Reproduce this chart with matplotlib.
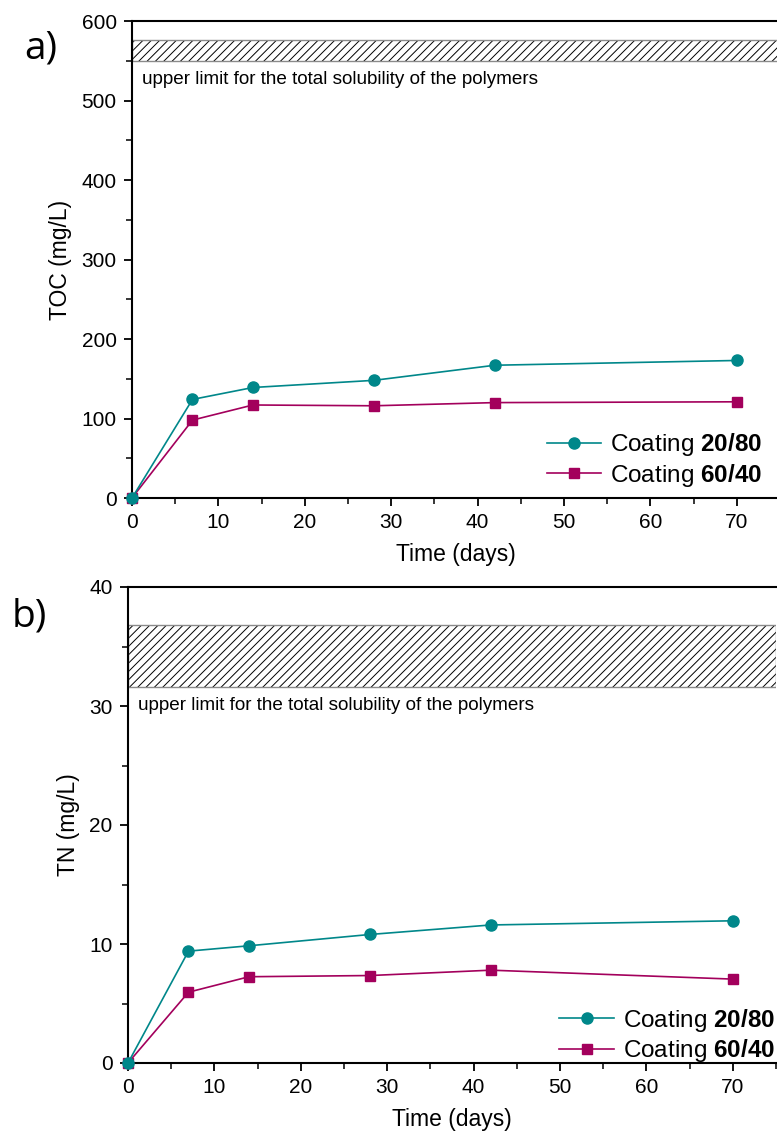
import matplotlib
matplotlib.use("Agg")
import matplotlib.pyplot as plt
from matplotlib.ticker import MultipleLocator

plt.rcParams["font.family"] = ["Liberation Sans", "DejaVu Sans"]
plt.rcParams["mathtext.fontset"] = "custom"
plt.rcParams["mathtext.bf"] = "Liberation Sans:bold"
plt.rcParams["mathtext.rm"] = "Liberation Sans"
plt.rcParams["hatch.linewidth"] = 0.7

# ── Data ──────────────────────────────────────────────
days = [0, 7, 14, 28, 42, 70]

toc_2080 = [0, 124, 139, 148, 167, 173]
toc_6040 = [0, 98, 117, 116, 120, 121]
toc_limit = (550, 576)

tn_2080 = [0, 9.4, 9.85, 10.8, 11.6, 11.95]
tn_6040 = [0, 5.95, 7.25, 7.35, 7.8, 7.05]
tn_limit = (31.6, 36.8)

labels = ["Coating $\\mathbf{20/80}$", "Coating $\\mathbf{60/40}$"]
TEAL = "#00878A"
MAGENTA = "#A3005C"
LIMIT_TEXT = "upper limit for the total solubility of the polymers"

fig = plt.figure(figsize=(7.77, 11.38), dpi=100)
ax_a = fig.add_axes([132 / 777, 1 - 498 / 1138, 648 / 777, 477 / 1138])
ax_b = fig.add_axes([128 / 777, 1 - 1063 / 1138, 648 / 777, 476 / 1138])


def draw_panel(ax, y1, y2, limit, ylim, ymajor, ylabel, text_y, leg_anchor):
    # hatched band in black, outlined in grey
    ax.axhspan(limit[0], limit[1], facecolor="white", edgecolor="black",
               hatch="////", linewidth=0, zorder=1)
    ax.axhspan(limit[0], limit[1], fill=False, edgecolor="#8a8a8a",
               linewidth=1.0, zorder=1.1)
    ax.text(1.2, text_y, LIMIT_TEXT, fontsize=13.6, va="center", ha="left")

    ax.plot(days, y1, color=TEAL, marker="o", markersize=8, linewidth=1.2,
            label=labels[0], clip_on=False, zorder=4)
    ax.plot(days, y2, color=MAGENTA, marker="s", markersize=7, linewidth=1.2,
            label=labels[1], clip_on=False, zorder=3)

    ax.set_xlim(0, 75)
    ax.set_ylim(*ylim)
    ax.xaxis.set_major_locator(MultipleLocator(10))
    ax.xaxis.set_minor_locator(MultipleLocator(5))
    ax.yaxis.set_major_locator(MultipleLocator(ymajor))
    ax.yaxis.set_minor_locator(MultipleLocator(ymajor / 2))
    ax.tick_params(which="major", direction="out", length=6, width=1.3,
                   labelsize=15, pad=5)
    ax.tick_params(which="minor", direction="out", length=4, width=1.1)
    for side in ["left", "bottom", "top"]:
        ax.spines[side].set_linewidth(1.5)
    ax.spines["right"].set_visible(False)

    ax.set_xlabel("Time (days)", fontsize=16.5, labelpad=8)
    ax.set_ylabel(ylabel, fontsize=16.5, labelpad=7)

    ax.legend(loc="lower right", bbox_to_anchor=leg_anchor, frameon=False,
              fontsize=17.5, handlelength=2.25, handletextpad=0.35,
              labelspacing=0.15, borderaxespad=0)


draw_panel(ax_a, toc_2080, toc_6040, toc_limit, (0, 600), 100,
           "TOC (mg/L)", 527, (0.987, -0.001))
draw_panel(ax_b, tn_2080, tn_6040, tn_limit, (0, 40), 10,
           "TN (mg/L)", 30, (1.013, -0.023))

fig.text(24 / 777, 1 - 48 / 1138, "a)", fontsize=28, family="Open Sans",
         va="center", ha="left")
fig.text(12 / 777, 1 - 617 / 1138, "b)", fontsize=28, family="Open Sans",
         va="center", ha="left")

fig.savefig("out.png", dpi=100)
